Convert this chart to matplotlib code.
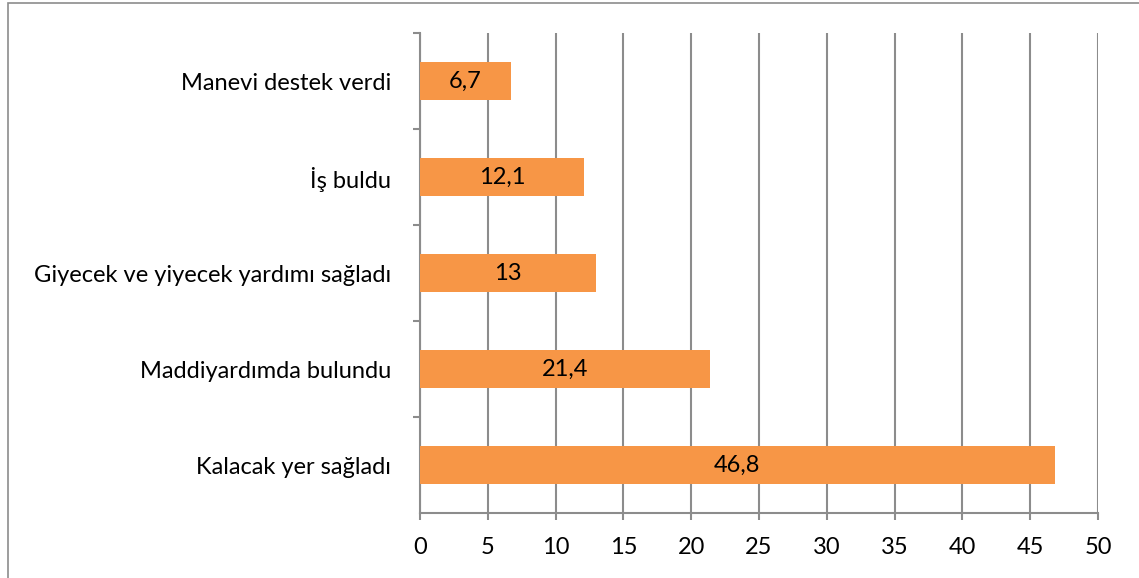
import matplotlib.pyplot as plt
from matplotlib.patches import Rectangle
import numpy as np

categories = ['Kalacak yer sağladı', 'Maddiyardımda bulundu',
              'Giyecek ve yiyecek yardımı sağladı', 'İş buldu', 'Manevi destek verdi']
values = [46.8, 21.4, 13, 12.1, 6.7]
labels = ['46,8', '21,4', '13', '12,1', '6,7']
xticks = [0, 5, 10, 15, 20, 25, 30, 35, 40, 45, 50]

plt.rcParams['font.family'] = ['Lato', 'DejaVu Sans']
FS = 17

fig = plt.figure(figsize=(11.39, 5.78), dpi=100)
ax = fig.add_axes([420 / 1139, 1 - 513 / 578, 678 / 1139, 480 / 578])

# dış çerçeve
fig.patches.append(Rectangle((8 / 1139, -0.01), 1.2, 1 - 3 / 578 + 0.01,
                             transform=fig.transFigure, fill=False,
                             edgecolor='#8c8c8c', linewidth=1.2))

y = np.arange(len(categories))
ax.barh(y, values, height=0.4, color='#F79646', zorder=3)
for yi, v, lab in zip(y, values, labels):
    ax.text(v / 2, yi, lab, ha='center', va='center', fontsize=FS, color='black', zorder=4)

ax.set_xlim(0, 50)
ax.set_ylim(-0.5, len(categories) - 0.5)
ax.set_xticks(xticks)
ax.set_yticks(y)
ax.set_yticklabels(categories, fontsize=FS)
ax.set_yticks(np.arange(len(categories)) + 0.5, minor=True)
ax.tick_params(axis='y', which='major', length=0, pad=21)
ax.tick_params(axis='y', which='minor', length=5, width=1.5, color='#8c8c8c', direction='out')
ax.tick_params(axis='x', length=5, width=1.5, color='#8c8c8c', labelsize=FS, pad=12)

ax.grid(axis='x', color='#8c8c8c', linewidth=1.5, zorder=0)
for s in ['top', 'right']:
    ax.spines[s].set_visible(False)
for s in ['left', 'bottom']:
    ax.spines[s].set_color('#8c8c8c')
    ax.spines[s].set_linewidth(1.5)

plt.savefig('out.png', dpi=100)
